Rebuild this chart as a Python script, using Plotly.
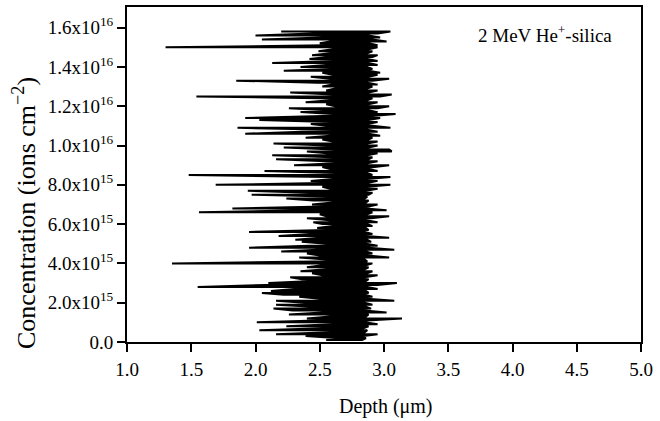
import plotly.graph_objects as go

# Concentration levels (x1e15 ions cm^-2), bottom to top
conc_e15 = [0.1, 0.2, 0.3, 0.4, 0.5, 0.6, 0.7, 0.8, 0.9, 1.0,
            1.1, 1.2, 1.3, 1.4, 1.5, 1.6, 1.7, 1.8, 1.9, 2.0,
            2.1, 2.2, 2.3, 2.4, 2.5, 2.6, 2.7, 2.8, 2.9, 3.0,
            3.1, 3.2, 3.3, 3.4, 3.5, 3.6, 3.7, 3.8, 3.9, 4.0,
            4.1, 4.2, 4.3, 4.4, 4.5, 4.6, 4.7, 4.8, 4.9, 5.0,
            5.1, 5.2, 5.3, 5.4, 5.5, 5.6, 5.7, 5.8, 5.9, 6.0,
            6.1, 6.2, 6.3, 6.4, 6.5, 6.6, 6.7, 6.8, 6.9, 7.0,
            7.1, 7.2, 7.3, 7.4, 7.5, 7.6, 7.7, 7.8, 7.9, 8.0,
            8.1, 8.2, 8.3, 8.4, 8.5, 8.6, 8.7, 8.8, 8.9, 9.0,
            9.1, 9.2, 9.3, 9.4, 9.5, 9.6, 9.7, 9.8, 9.9, 10.0,
            10.1, 10.2, 10.3, 10.4, 10.5, 10.6, 10.7, 10.8, 10.9, 11.0,
            11.1, 11.2, 11.3, 11.4, 11.5, 11.6, 11.7, 11.8, 11.9, 12.0,
            12.1, 12.2, 12.3, 12.4, 12.5, 12.6, 12.7, 12.8, 12.9, 13.0,
            13.1, 13.2, 13.3, 13.4, 13.5, 13.6, 13.7, 13.8, 13.9, 14.0,
            14.1, 14.2, 14.3, 14.4, 14.5, 14.6, 14.7, 14.8, 14.9, 15.0,
            15.1, 15.2, 15.3, 15.4, 15.5, 15.6, 15.7, 15.8]

# Shallowest depth reached at each level (um)
depth_left = [2.55, 2.62, 2.39, 2.16, 2.58, 2.03, 2.52, 2.24, 2.60, 2.01,
              2.48, 2.40, 2.58, 2.26, 2.52, 2.29, 2.14, 2.45, 2.16, 2.38,
              2.16, 2.50, 2.34, 2.22, 2.05, 2.12, 2.30, 1.55, 2.08, 2.10,
              2.45, 2.36, 2.27, 2.52, 2.44, 2.35, 2.55, 2.40, 2.52, 1.35,
              2.46, 2.55, 2.34, 2.50, 2.40, 2.20, 2.48, 1.95, 2.42, 2.55,
              2.36, 2.31, 2.50, 2.18, 2.42, 1.95, 2.55, 2.48, 2.60, 2.52,
              2.45, 2.58, 2.40, 2.55, 2.50, 1.56, 2.38, 1.82, 2.54, 2.44,
              2.60, 2.45, 2.24, 2.56, 1.97, 2.42, 1.94, 2.58, 2.52, 1.69,
              2.62, 2.43, 2.60, 2.55, 1.48, 2.62, 2.07, 2.58, 2.52, 2.30,
              2.62, 2.55, 2.16, 2.60, 2.13, 2.58, 2.40, 2.62, 2.22, 2.56,
              2.14, 2.60, 2.52, 2.39, 2.58, 1.92, 2.36, 2.60, 1.86, 2.55,
              2.43, 2.58, 2.03, 1.92, 2.52, 2.60, 2.35, 2.56, 2.26, 2.62,
              2.55, 2.39, 2.58, 2.50, 1.54, 2.60, 2.27, 2.55, 2.62, 2.52,
              2.60, 2.48, 1.85, 2.58, 2.43, 2.60, 2.52, 2.22, 2.58, 2.35,
              2.55, 2.13, 2.60, 2.42, 2.56, 2.44, 2.58, 2.49, 2.60, 1.30,
              2.55, 2.50, 2.58, 2.05, 2.52, 2.00, 2.45, 2.20]

# Deepest depth reached at each level (um)
depth_right = [2.83, 2.86, 2.84, 2.95, 2.85, 2.87, 2.84, 2.88, 2.95, 2.85,
               2.87, 3.14, 2.86, 2.88, 3.02, 2.85, 2.90, 2.86, 2.91, 2.85,
               3.08, 2.87, 2.91, 2.85, 2.88, 2.86, 2.95, 2.87, 2.95, 3.10,
               2.86, 2.88, 2.85, 2.95, 2.87, 2.91, 2.85, 2.88, 2.86, 2.91,
               2.87, 2.85, 3.04, 2.87, 2.91, 2.86, 3.08, 2.88, 2.95, 2.86,
               2.90, 2.87, 3.04, 2.86, 2.91, 2.85, 2.88, 2.86, 2.91, 2.87,
               2.95, 2.86, 2.90, 3.04, 2.87, 2.91, 3.02, 2.86, 2.88, 2.95,
               2.86, 2.88, 2.85, 2.87, 2.88, 2.91, 2.86, 2.95, 2.87, 3.05,
               2.88, 2.95, 2.87, 3.05, 2.91, 2.87, 2.95, 2.88, 2.91, 3.04,
               2.87, 2.95, 2.88, 2.91, 2.87, 2.95, 3.06, 3.04, 2.88, 2.95,
               2.87, 2.95, 2.88, 2.91, 2.97, 2.88, 2.95, 2.87, 3.05, 2.91,
               2.87, 2.95, 2.88, 2.97, 2.91, 3.09, 2.95, 2.88, 2.95, 3.04,
               2.88, 2.95, 2.87, 2.91, 2.97, 3.06, 2.88, 2.95, 2.87, 2.91,
               2.95, 2.87, 2.91, 3.04, 2.88, 2.95, 2.97, 2.88, 2.91, 2.87,
               2.95, 2.88, 2.95, 2.87, 2.91, 2.95, 2.87, 2.91, 2.88, 2.95,
               2.95, 2.88, 3.02, 2.91, 2.97, 2.88, 2.95, 3.05]

x_tick_vals = [1.0, 1.5, 2.0, 2.5, 3.0, 3.5, 4.0, 4.5, 5.0]
x_tick_text = ["1.0", "1.5", "2.0", "2.5", "3.0", "3.5", "4.0", "4.5", "5.0"]
y_tick_vals = [0, 2e15, 4e15, 6e15, 8e15, 1e16, 1.2e16, 1.4e16, 1.6e16]
y_tick_text = ["0.0", "2.0x10<sup>15</sup>", "4.0x10<sup>15</sup>", "6.0x10<sup>15</sup>",
               "8.0x10<sup>15</sup>", "1.0x10<sup>16</sup>", "1.2x10<sup>16</sup>",
               "1.4x10<sup>16</sup>", "1.6x10<sup>16</sup>"]

# Build the trace path: each level traced as a horizontal sweep, alternating direction
xs, ys = [], []
for i, (c, l, r) in enumerate(zip(conc_e15, depth_left, depth_right)):
    pair = (l, r) if i % 2 == 0 else (r, l)
    for d in pair:
        xs.append(d)
        ys.append(c * 1e15)

FONT = "Liberation Serif, Times New Roman, serif"
W, H = 660, 421
ML, MR, MT, MB = 127, 19, 7, 79
PW, PH = W - ML - MR, H - MT - MB


def px(xp):
    return (xp - ML) / PW


def py(yp):
    return 1 - (yp - MT) / PH


fig = go.Figure()
fig.add_trace(go.Scatter(x=xs, y=ys, mode="lines",
                         line=dict(color="black", width=2.0),
                         showlegend=False, hoverinfo="skip"))

fig.update_layout(
    width=W, height=H,
    margin=dict(l=ML, r=MR, t=MT, b=MB, autoexpand=False),
    paper_bgcolor="white", plot_bgcolor="white",
    font=dict(family=FONT, size=19, color="black"),
    showlegend=False,
    xaxis=dict(range=[1, 5], tickvals=x_tick_vals, ticktext=x_tick_text,
               ticks="outside", ticklen=8, tickwidth=2, tickcolor="black",
               showline=True, linewidth=2, linecolor="black", mirror=True,
               showgrid=False, zeroline=False, ticklabelstandoff=1,
               tickfont=dict(size=19)),
    yaxis=dict(range=[0, 1.705e16], tickvals=y_tick_vals, ticktext=y_tick_text,
               ticks="outside", ticklen=8, tickwidth=2, tickcolor="black",
               showline=True, linewidth=2, linecolor="black", mirror=True,
               showgrid=False, zeroline=False, tickfont=dict(size=19)),
    annotations=[
        dict(text="2 MeV He<sup>+</sup>-silica", x=px(545), y=py(34),
             xref="paper", yref="paper", showarrow=False,
             xanchor="center", yanchor="middle", font=dict(size=19)),
        dict(text="Depth (μm)", x=px(385), y=py(407),
             xref="paper", yref="paper", showarrow=False,
             xanchor="center", yanchor="middle", font=dict(size=20)),
        dict(text="Concentration (ions cm<sup>−2</sup>)", x=px(24), y=py(213),
             xref="paper", yref="paper", showarrow=False, textangle=-90,
             xanchor="center", yanchor="middle", font=dict(size=26)),
    ],
)

fig.write_html("out.html", config={"displayModeBar": False},
               post_script="document.body.style.margin='0';")
